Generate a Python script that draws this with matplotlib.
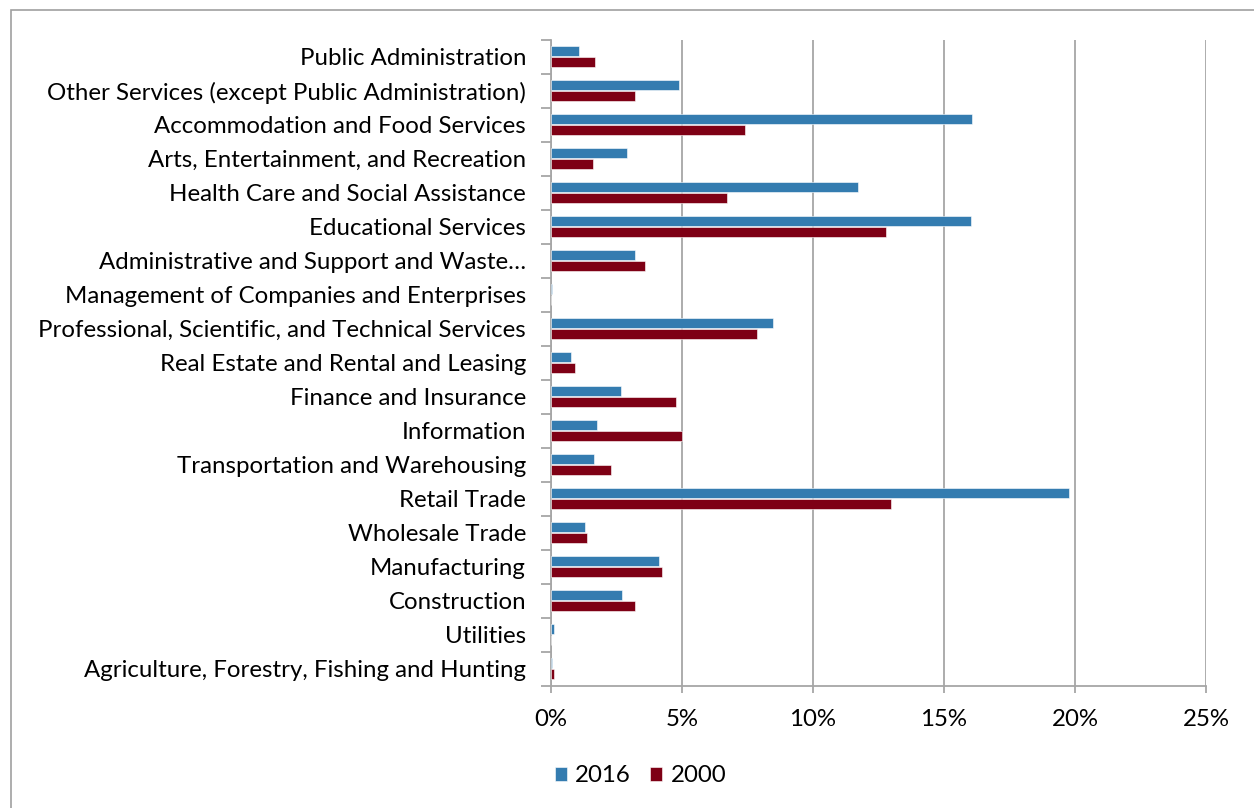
import matplotlib
matplotlib.use("Agg")
import matplotlib.pyplot as plt
import numpy as np
from matplotlib.patches import Rectangle
from matplotlib.ticker import FixedLocator, PercentFormatter

categories = [
    "Agriculture, Forestry, Fishing and Hunting",
    "Utilities",
    "Construction",
    "Manufacturing",
    "Wholesale Trade",
    "Retail Trade",
    "Transportation and Warehousing",
    "Information",
    "Finance and Insurance",
    "Real Estate and Rental and Leasing",
    "Professional, Scientific, and Technical Services",
    "Management of Companies and Enterprises",
    "Administrative and Support and Waste…",
    "Educational Services",
    "Health Care and Social Assistance",
    "Arts, Entertainment, and Recreation",
    "Accommodation and Food Services",
    "Other Services (except Public Administration)",
    "Public Administration",
]
values_2016 = [0.05, 0.10, 2.71, 4.14, 1.30, 19.77, 1.65, 1.76, 2.66, 0.75,
               8.47, 0.04, 3.21, 16.04, 11.73, 2.90, 16.07, 4.88, 1.08]
values_2000 = [0.10, 0.0, 3.19, 4.23, 1.36, 12.98, 2.28, 5.00, 4.77, 0.92,
               7.86, 0.0, 3.57, 12.80, 6.72, 1.61, 7.40, 3.21, 1.68]
series_labels = ["2016", "2000"]
x_ticks = [0, 5, 10, 15, 20, 25]

blue = "#347CB0"
red = "#7E0015"
grid_grey = "#A6A6A6"
fs = 17.3

plt.rcParams['font.family'] = ['Lato', 'DejaVu Sans']

fig = plt.figure(figsize=(12.54, 8.08), dpi=100)
fig.patches.append(Rectangle((11/1254, -0.01), 1.0, 1 - 10/808 + 0.01,
                             transform=fig.transFigure, fill=False,
                             edgecolor="#A0A0A0", linewidth=1.2, zorder=0))

ax = fig.add_axes([551/1254, 1 - 685.5/808, 655/1254, 646/808])

y = np.arange(len(categories))
h = 0.27
off = 0.16
b1 = ax.barh(y + off, values_2016, height=h, color=blue, edgecolor="white",
             linewidth=0.4, label=series_labels[0], zorder=3)
b2 = ax.barh(y - off, values_2000, height=h, color=red, edgecolor="white",
             linewidth=0.4, label=series_labels[1], zorder=3)

ax.set_xlim(0, 25)
ax.set_ylim(-0.5, len(categories) - 0.5)
ax.set_xticks(x_ticks)
ax.xaxis.set_major_formatter(PercentFormatter(decimals=0))
ax.set_yticks(y)
ax.set_yticklabels(categories)
ax.yaxis.set_minor_locator(FixedLocator(np.arange(-0.5, len(categories), 1)))

ax.tick_params(axis='y', which='major', length=0, pad=18, labelsize=fs,
               labelcolor="black")
ax.tick_params(axis='y', which='minor', length=7, width=1.3, color=grid_grey,
               direction='out')
ax.tick_params(axis='x', which='major', length=5, width=1.3, color=grid_grey,
               pad=12, labelsize=fs)

ax.grid(axis='x', color=grid_grey, linewidth=1.3, zorder=0)
ax.set_axisbelow(True)
for s in ['top', 'right']:
    ax.spines[s].set_visible(False)
for s in ['left', 'bottom']:
    ax.spines[s].set_color(grid_grey)
    ax.spines[s].set_linewidth(1.3)

leg = fig.legend(handles=[b1, b2], labels=series_labels, loc='center left',
                 bbox_to_anchor=(533/1254, 1 - 776/808), ncol=2, frameon=False,
                 fontsize=fs, handlelength=0.5, handleheight=0.5,
                 handletextpad=0.35, columnspacing=0.8)

fig.savefig("out.png", dpi=100)
